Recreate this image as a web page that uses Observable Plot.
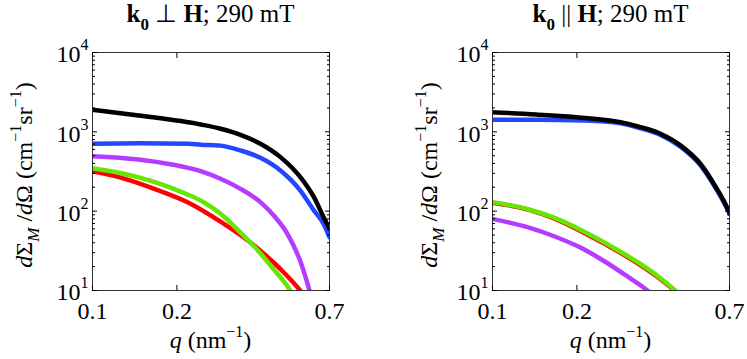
<!DOCTYPE html>
<html><head><meta charset="utf-8">
<script src="https://cdn.jsdelivr.net/npm/d3@7"></script>
<script src="https://cdn.jsdelivr.net/npm/@observablehq/plot@0.6"></script>
<style>
body{margin:0;background:#fff;}
#wrap{display:flex;width:747px;height:359px;overflow:hidden;}
svg{display:block;}
</style></head><body><div id="wrap"></div>
<script>
// ---------- axis ticks ----------
const xTicks = [0.1, 0.2, 0.7];
const xTickLabels = ["0.1", "0.2", "0.7"];
const yTicks = [10, 100, 1000, 10000];
const yTickExponents = ["1", "2", "3", "4"];
const yMinorTicks = [20,30,40,50,60,70,80,90,200,300,400,500,600,700,800,900,2000,3000,4000,5000,6000,7000,8000,9000];

// ---------- colours ----------
const colBlack = "#000000", colBlue = "#2346ff", colPurple = "#b43cff", colGreen = "#66e600", colRed = "#ff0000";

// ---------- left panel: k0 ⊥ H ----------
const perpBlackQ  = [0.1, 0.146, 0.243, 0.286, 0.337, 0.397, 0.468, 0.551, 0.616, 0.667, 0.7];
const perpBlackV  = [1900, 1610, 1239, 1094, 918, 708, 480, 268, 150, 84, 60];
const perpBlueQ   = [0.1, 0.146, 0.22, 0.243, 0.286, 0.337, 0.397, 0.468, 0.551, 0.616, 0.667, 0.7];
const perpBlueV   = [708, 720, 708, 689, 670, 583, 471, 326, 182, 102, 69, 47];
const perpPurpleQ = [0.1, 0.146, 0.192, 0.243, 0.286, 0.337, 0.397, 0.443, 0.495, 0.557, 0.594, 0.61];
const perpPurpleV = [494, 449, 388, 319, 256, 191, 130, 88, 52, 21, 10, 7];
const perpRedQ    = [0.1, 0.127, 0.167, 0.22, 0.286, 0.337, 0.396, 0.473, 0.55, 0.57];
const perpRedV    = [317, 263, 190, 128, 74, 50, 32, 17.9, 10, 8.5];
const perpGreenQ  = [0.1, 0.127, 0.167, 0.208, 0.243, 0.286, 0.346, 0.38, 0.436, 0.507, 0.525];
const perpGreenV  = [348, 301, 232, 174, 136, 93, 49, 35, 19.7, 10, 8];

// ---------- right panel: k0 ∥ H ----------
const parBlackQ  = [0.1, 0.143, 0.243, 0.286, 0.337, 0.397, 0.468, 0.551, 0.616, 0.667, 0.7];
const parBlackV  = [1770, 1655, 1432, 1325, 1148, 946, 675, 396, 221, 136, 97];
const parBlueQ   = [0.1, 0.143, 0.215, 0.286, 0.337, 0.397, 0.468, 0.551, 0.616, 0.667, 0.7];
const parBlueV   = [1420, 1420, 1390, 1280, 1110, 915, 650, 380, 212, 131, 93];
const parPurpleQ = [0.1, 0.135, 0.164, 0.205, 0.248, 0.299, 0.357, 0.37];
const parPurpleV = [80, 62, 49, 35, 23.9, 15.5, 10, 9];
const parRedQ    = [0.1, 0.135, 0.164, 0.215, 0.283, 0.343, 0.393, 0.448, 0.46];
const parRedV    = [128, 104, 82, 52, 30.5, 20, 14.3, 9.8, 9];
const parGreenQ  = [0.1, 0.135, 0.164, 0.215, 0.283, 0.343, 0.393, 0.448, 0.46];
const parGreenV  = [130, 105, 84, 54, 31.5, 20.7, 14.7, 10, 9.2];

const FONT = '"Liberation Serif", "Times New Roman", serif';

function toRows(q, v) { return q.map((d, i) => ({q: d, v: v[i]})); }
const xTickRows = xTicks.map((t, i) => ({t, label: xTickLabels[i]}));

function panel(series, cfg) {
  const {width, ml, mr, title} = cfg;
  const mt = 52, mb = 69, height = 359;
  const svg = Plot.plot({
    width, height,
    marginLeft: ml, marginRight: mr, marginTop: mt, marginBottom: mb,
    x: {type: "log", domain: [0.1, 0.7]},
    y: {type: "log", domain: [10, 10000]},
    style: {fontFamily: FONT, background: "white", color: "black", overflow: "visible"},
    marks: [
      ...series.map(s => Plot.line(toRows(s.q, s.v), {x: "q", y: "v", stroke: s.color, strokeWidth: 4.5, curve: "monotone-x", clip: true})),
      Plot.frame({stroke: "#333", strokeWidth: 1}),
      Plot.axisX(xTicks, {anchor: "bottom", tickSize: -5, fill: "none", label: null}),
      Plot.axisX(xTicks, {anchor: "top", tickSize: -5, fill: "none", label: null}),
      Plot.axisY(yTicks, {anchor: "left", tickSize: -5, fill: "none", label: null}),
      Plot.axisY(yTicks, {anchor: "right", tickSize: -5, fill: "none", label: null}),
      Plot.axisY(yMinorTicks, {anchor: "left", tickSize: -3, fill: "none", label: null}),
      Plot.axisY(yMinorTicks, {anchor: "right", tickSize: -3, fill: "none", label: null}),
      Plot.text(xTickRows, {x: "t", text: "label", frameAnchor: "bottom", lineAnchor: "top", dy: 11,
        fontSize: 24, fill: "black"}),
      Plot.axisY(yTicks, {anchor: "left", tickSize: 0, tickPadding: 4, fontSize: 24, label: null, dy: 2,
        tickFormat: d => "10^" + yTickExponents[yTicks.indexOf(d)]})
    ]
  });
  const sel = d3.select(svg);
  sel.selectAll('g[aria-label="y-axis tick label"] text').each(function () {
    const [base, exp] = this.textContent.split("^");
    const t = d3.select(this);
    t.text(null);
    t.append("tspan").text(base);
    t.append("tspan").attr("font-size", 16).attr("dy", -12).text(exp);
  });
  const cx = ml + (width - ml - mr) / 2;
  const cy = mt + (height - mt - mb) / 2;
  // title
  const tt = sel.append("text").attr("x", cx).attr("y", 22).attr("text-anchor", "middle")
    .attr("font-size", 25).attr("font-family", FONT).attr("fill", "black");
  tt.append("tspan").attr("font-weight", "bold").text("k");
  tt.append("tspan").attr("font-weight", "bold").attr("font-size", 17).attr("dy", 8).text("0");
  tt.append("tspan").attr("dy", -8).text(" " + title.rel + " ");
  tt.append("tspan").attr("font-weight", "bold").text("H");
  tt.append("tspan").text("; 290 mT");
  // y label
  const yl = sel.append("text").attr("transform", `translate(${ml - cfg.ylOff},${cy + 4}) rotate(-90)`)
    .attr("text-anchor", "middle").attr("font-size", 24).attr("font-family", FONT).attr("fill", "black");
  yl.append("tspan").attr("font-style", "italic").text("d");
  yl.append("tspan").text("Σ");
  yl.append("tspan").attr("font-style", "italic").attr("font-size", 17).attr("dy", 7).text("M");
  yl.append("tspan").attr("dy", -7).text(" /");
  yl.append("tspan").attr("font-style", "italic").text("d");
  yl.append("tspan").text("Ω (cm");
  yl.append("tspan").attr("font-size", 16).attr("dy", -11).text("−1");
  yl.append("tspan").attr("dy", 11).text("sr");
  yl.append("tspan").attr("font-size", 16).attr("dy", -11).text("−1");
  yl.append("tspan").attr("dy", 11).text(")");
  // x label
  const xl = sel.append("text").attr("x", cx).attr("y", 348).attr("text-anchor", "middle")
    .attr("font-size", 24).attr("font-family", FONT).attr("fill", "black");
  xl.append("tspan").attr("font-style", "italic").text("q");
  xl.append("tspan").text(" (nm");
  xl.append("tspan").attr("font-size", 16).attr("dy", -11).text("−1");
  xl.append("tspan").attr("dy", 11).text(")");
  return svg;
}

const perpSeries = [
  {q: perpBlueQ, v: perpBlueV, color: colBlue},
  {q: perpBlackQ, v: perpBlackV, color: colBlack},
  {q: perpPurpleQ, v: perpPurpleV, color: colPurple},
  {q: perpRedQ, v: perpRedV, color: colRed},
  {q: perpGreenQ, v: perpGreenV, color: colGreen}
];
const parSeries = [
  {q: parBlueQ, v: parBlueV, color: colBlue},
  {q: parBlackQ, v: parBlackV, color: colBlack},
  {q: parPurpleQ, v: parPurpleV, color: colPurple},
  {q: parRedQ, v: parRedV, color: colRed},
  {q: parGreenQ, v: parGreenV, color: colGreen}
];

const wrap = document.getElementById("wrap");
wrap.appendChild(panel(perpSeries, {width: 374, ml: 92, mr: 45, ylOff: 60, title: {rel: "⊥"}}));
wrap.appendChild(panel(parSeries, {width: 373, ml: 118, mr: 18, ylOff: 55, title: {rel: "||"}}));
</script>
</body></html>
